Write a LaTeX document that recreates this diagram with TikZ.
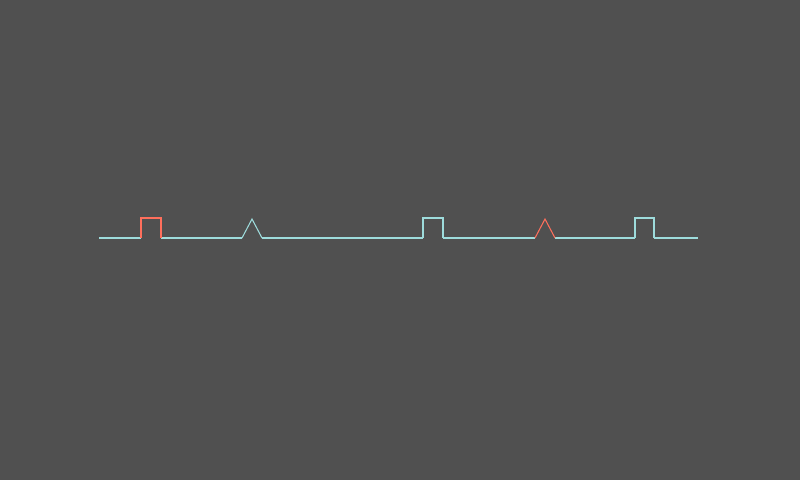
\documentclass[tikz,border=0pt]{standalone}
\usepackage{xcolor}
\definecolor{bgdark}{HTML}{505050}
\definecolor{sigcyan}{HTML}{9EDCDC}
\definecolor{sigred}{HTML}{FF6F5C}

\begin{document}
\begin{tikzpicture}[x=0.02cm, y=-0.02cm, line width=0.6pt, line join=miter]

% Background
\fill[bgdark] (0, 0) rectangle (800, 480);
\useasboundingbox (0, 0) rectangle (800, 480);

% Baseline segments
\draw[sigcyan] (99, 238) -- (141, 238);
\draw[sigcyan] (161, 238) -- (242, 238);
\draw[sigcyan] (262, 238) -- (423, 238);
\draw[sigcyan] (443, 238) -- (535, 238);
\draw[sigcyan] (555, 238) -- (635, 238);
\draw[sigcyan] (654, 238) -- (698, 238);

% Square pulses
\draw[sigred] (141, 238) -- (141, 218) -- (161, 218) -- (161, 238);
\draw[sigcyan] (423, 238) -- (423, 218) -- (443, 218) -- (443, 238);
\draw[sigcyan] (635, 238) -- (635, 218) -- (654, 218) -- (654, 238);

% Triangle pulses
\draw[sigcyan] (242, 238) -- (252, 219) -- (262, 238);
\draw[sigred] (535, 238) -- (545, 219) -- (555, 238);

\end{tikzpicture}
\end{document}
